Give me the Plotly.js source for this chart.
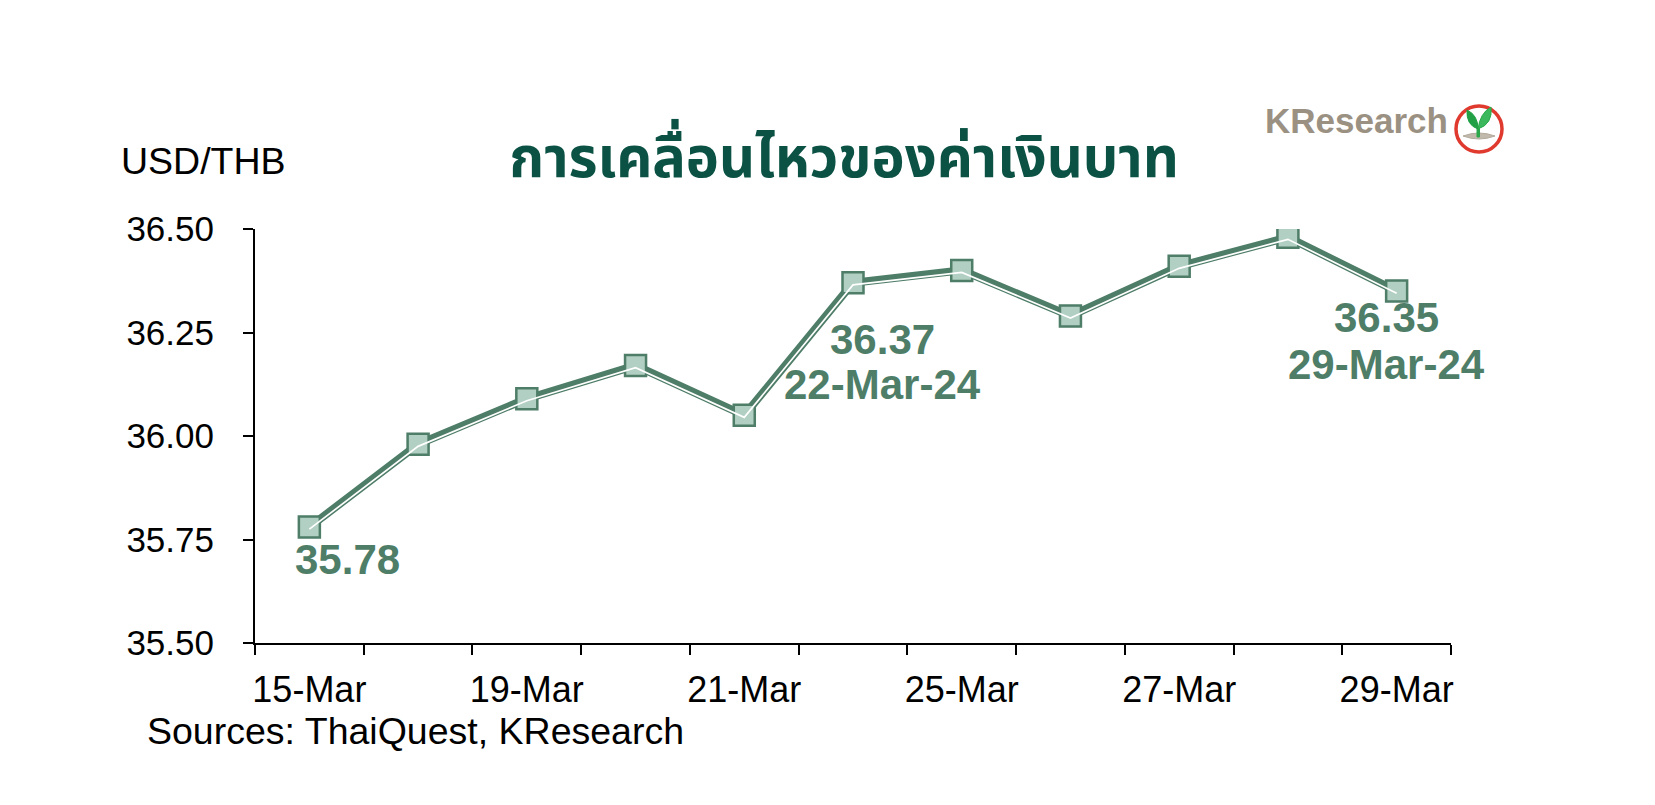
<!DOCTYPE html>
<html>
<head>
<meta charset="utf-8">
<script src="https://cdn.plot.ly/plotly-3.0.1.min.js"></script>
<style>html,body{margin:0;padding:0;background:#fff;}#chart{width:1655px;height:805px;}</style>
</head>
<body>
<div id="chart"></div>
<script>
const categories = ['15-Mar','18-Mar','19-Mar','20-Mar','21-Mar','22-Mar','25-Mar','26-Mar','27-Mar','28-Mar','29-Mar'];
const usdThb = [35.78, 35.98, 36.09, 36.17, 36.05, 36.37, 36.40, 36.29, 36.41, 36.48, 36.35];
const tickLabels = ['15-Mar','','19-Mar','','21-Mar','','25-Mar','','27-Mar','','29-Mar'];
const valueLabels = [
  {i: 0, text: '35.78'},
  {i: 5, text: '36.37'},
  {i: 5, text: '22-Mar-24'},
  {i: 10, text: '36.35'},
  {i: 10, text: '29-Mar-24'}
];

const green = '#4e7d68';
const fill = '#b1cfc2';
const font = 'Arial, "Liberation Sans", sans-serif';

const traces = [
  {x: categories, y: usdThb, type: 'scatter', mode: 'lines', line: {color: green, width: 8}, hoverinfo: 'skip', showlegend: false},
  {x: categories, y: usdThb, type: 'scatter', mode: 'lines', yaxis: 'y2', line: {color: '#ffffff', width: 1.7}, hoverinfo: 'skip', showlegend: false},
  {x: categories, y: usdThb, type: 'scatter', mode: 'markers', marker: {symbol: 'square', size: 21, color: fill, line: {color: green, width: 2.5}}, showlegend: false}
];

// label placement offsets (pixels) relative to their data point
const placement = [
  {xshift: 38, yshift: -32},
  {xshift: 29, yshift: -57},
  {xshift: 29, yshift: -102},
  {xshift: -10, yshift: -26},
  {xshift: -10, yshift: -73}
];

const annotations = valueLabels.map((p, k) => ({
  x: categories[p.i], y: usdThb[p.i], xref: 'x', yref: 'y',
  text: '<b>' + p.text + '</b>', showarrow: false, xanchor: 'center', yanchor: 'middle',
  xshift: placement[k].xshift, yshift: placement[k].yshift,
  font: {family: font, size: 42, color: green}
}));

annotations.push({
  xref: 'paper', yref: 'paper', x: -0.1137, y: 1.0, xanchor: 'left', yanchor: 'middle',
  yshift: 68, text: 'USD/THB', showarrow: false,
  font: {family: font, size: 37.5, color: '#000'}
});
annotations.push({
  xref: 'paper', yref: 'paper', x: -0.092, y: 0, xanchor: 'left', yanchor: 'middle',
  yshift: -88, text: 'Sources: ThaiQuest, KResearch', showarrow: false,
  font: {family: font, size: 37.5, color: '#000'}
});
annotations.push({
  xref: 'paper', yref: 'paper', x: (1263 - 255) / 1196, y: 1.0, xanchor: 'left', yanchor: 'middle',
  yshift: 109, text: '<b>K</b>Research', showarrow: false,
  font: {family: font, size: 35, color: '#9b9183', weight: 'bold'}
});

const logoAnchor = {xref: 'paper', yref: 'paper', xsizemode: 'pixel', ysizemode: 'pixel', xanchor: (1456 - 255) / 1196, yanchor: 1.0};
const shapes = [
  Object.assign({type: 'circle', x0: 0, x1: 46, y0: 77, y1: 123,
    line: {color: '#e0392e', width: 3.5}, fillcolor: '#ffffff'}, logoAnchor),
  Object.assign({type: 'path', path: 'M 7 93 Q 23 99 39 93 Q 23 87 7 93 Z',
    line: {color: '#b3aa9c', width: 1}, fillcolor: '#c2b9ad'}, logoAnchor),
  Object.assign({type: 'path', path: 'M 21 92 L 23.5 92 L 23.5 102 L 21 102 Z',
    line: {color: '#2aa84a', width: 1}, fillcolor: '#2aa84a'}, logoAnchor),
  Object.assign({type: 'path', path: 'M 22 100 Q 10 104 11 119 Q 22 114 22 100 Z',
    line: {color: '#22a045', width: 1}, fillcolor: '#22a045'}, logoAnchor),
  Object.assign({type: 'path', path: 'M 22 100 Q 24 116 35 122 Q 37 105 22 100 Z',
    line: {color: '#2aa84a', width: 1}, fillcolor: '#3cb85c'}, logoAnchor)
];

const layout = {
  width: 1655, height: 805,
  margin: {l: 255, r: 204, t: 229, b: 162},
  paper_bgcolor: '#fff', plot_bgcolor: '#fff',
  title: {
    text: '<b>การเคลื่อนไหวของค่าเงินบาท</b>',
    x: 0.51, xanchor: 'center', y: 0.805, yanchor: 'middle',
    font: {family: '"Noto Sans Thai", "Noto Sans", Tahoma, sans-serif', size: 56, color: '#0b5245'}
  },
  xaxis: {
    type: 'category', tickmode: 'array', tickvals: categories, ticktext: tickLabels,
    tickson: 'boundaries', ticks: 'outside', ticklen: 10, tickwidth: 2, tickcolor: '#000',
    showline: true, linecolor: '#000', linewidth: 2, showgrid: false, zeroline: false,
    range: [-0.5, 10.5], tickangle: 0, ticklabelstandoff: 14,
    tickfont: {family: font, size: 36, color: '#000'}, fixedrange: true
  },
  yaxis: {
    range: [35.5, 36.5], dtick: 0.25, tick0: 35.5, tickformat: '.2f',
    ticks: 'outside', ticklen: 10, tickwidth: 2, tickcolor: '#000',
    showline: true, linecolor: '#000', linewidth: 2, showgrid: false, zeroline: false,
    ticklabelstandoff: 22,
    tickfont: {family: font, size: 35, color: '#000'}, fixedrange: true
  },
  yaxis2: {
    overlaying: 'y', range: [35.5 + 0.005, 36.5 + 0.005], visible: false, fixedrange: true
  },
  annotations: annotations,
  shapes: shapes,
  showlegend: false
};

Plotly.newPlot('chart', traces, layout, {displayModeBar: false, staticPlot: true});
</script>
</body>
</html>
